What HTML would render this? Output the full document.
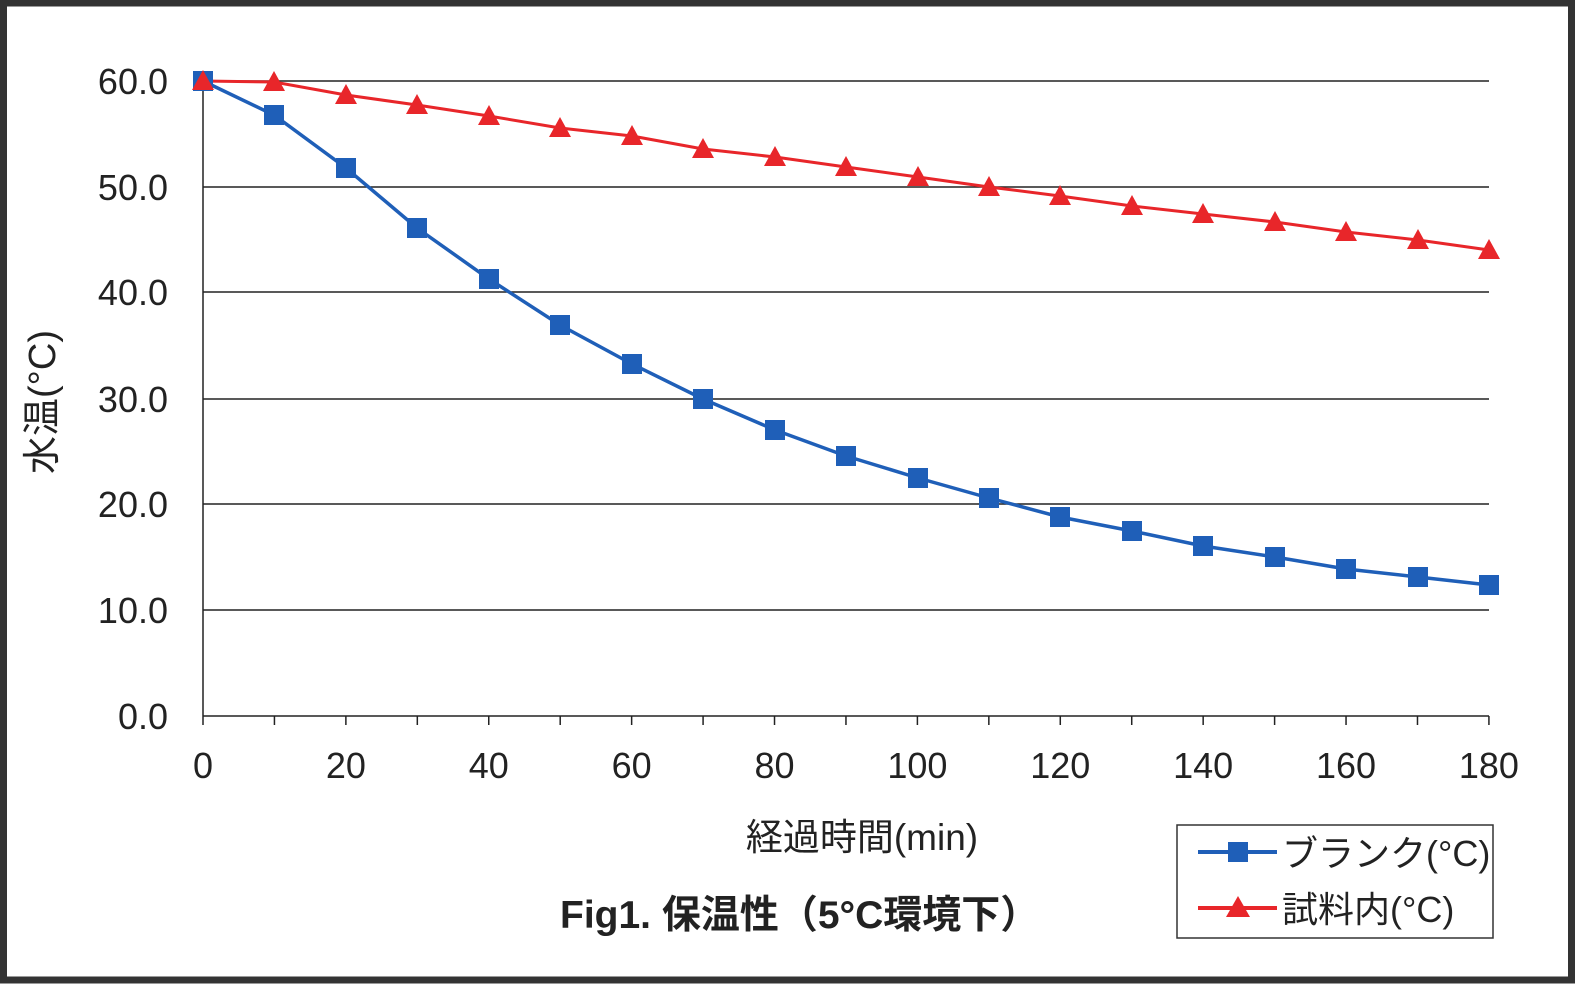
<!DOCTYPE html>
<html><head><meta charset="utf-8"><style>
html,body{margin:0;padding:0;background:#fff;}
body{width:1580px;height:990px;overflow:hidden;}
</style></head><body>
<svg width="1580" height="990" xmlns="http://www.w3.org/2000/svg" font-family="'Liberation Sans','Noto Sans CJK JP',sans-serif">
<rect x="3.5" y="3" width="1568" height="977" fill="#fff" stroke="#333" stroke-width="7"/>
<g stroke="#222" stroke-width="1.5">
<line x1="203" y1="81" x2="1489" y2="81"/>
<line x1="203" y1="187" x2="1489" y2="187"/>
<line x1="203" y1="292" x2="1489" y2="292"/>
<line x1="203" y1="399" x2="1489" y2="399"/>
<line x1="203" y1="504" x2="1489" y2="504"/>
<line x1="203" y1="610" x2="1489" y2="610"/>
<line x1="203" y1="716" x2="1489" y2="716"/>
<line x1="203" y1="81" x2="203" y2="716"/>
</g>
<g stroke="#222" stroke-width="1.5" id="ticks"></g>
<g font-size="36" fill="#222" text-anchor="end">
<text x="168" y="94">60.0</text><text x="168" y="200">50.0</text><text x="168" y="305">40.0</text>
<text x="168" y="412">30.0</text><text x="168" y="517">20.0</text><text x="168" y="623">10.0</text><text x="168" y="729">0.0</text>
</g>
<g font-size="36" fill="#222" text-anchor="middle" id="xl"></g>
<polyline fill="none" stroke="#1f5fb8" stroke-width="3.5" points="203,81 274,115 346,168 417,228 489,279 560,325 632,364 703,399 775,430 846,456 918,478 989,498 1060,517 1132,531 1203,546 1275,557 1346,569 1418,577 1489,585" id="bl"/>
<polyline fill="none" stroke="#e8262a" stroke-width="3" points="203,81 274,82 346,95 417,105 489,116 560,128 632,136 703,149 775,157 846,167 918,177 989,187 1060,196 1132,206 1203,214 1275,222 1346,232 1418,240 1489,250" id="rl"/>
<g id="mk"></g>
<text x="68" y="415" font-size="38" fill="#222" text-anchor="middle" transform="rotate(-90 55 415)">水温(°C)</text>
<text x="862" y="850" font-size="37" fill="#222" text-anchor="middle">経過時間(min)</text>
<text x="560" y="928" font-size="39" fill="#222" font-weight="bold">Fig1. 保温性（5°C環境下）</text>
<rect x="1177" y="825" width="316" height="113" fill="#fff" stroke="#333" stroke-width="1.5"/>
<line x1="1198" y1="852" x2="1277" y2="852" stroke="#1f5fb8" stroke-width="4"/>
<rect x="1228" y="842" width="20" height="20" fill="#1f5fb8"/>
<line x1="1198" y1="908" x2="1277" y2="908" stroke="#e8262a" stroke-width="4"/>
<polygon points="1238,896 1250,917 1226,917" fill="#e8262a"/>
<text x="1282" y="866" font-size="36" fill="#222">ブランク(°C)</text>
<text x="1282" y="922" font-size="36" fill="#222">試料内(°C)</text>
</svg>
<script>
var ns="http://www.w3.org/2000/svg";
var t=document.getElementById('ticks'),xl=document.getElementById('xl'),mk=document.getElementById('mk');
for(var i=0;i<=18;i++){var x=203+i*71.44;var l=document.createElementNS(ns,'line');l.setAttribute('x1',x);l.setAttribute('x2',x);l.setAttribute('y1',716);l.setAttribute('y2',725);t.appendChild(l);
if(i%2==0){var tx=document.createElementNS(ns,'text');tx.setAttribute('x',x);tx.setAttribute('y',778);tx.textContent=i*10;xl.appendChild(tx);}}
document.getElementById('bl').getAttribute('points').split(' ').forEach(function(p){var a=p.split(',');var r=document.createElementNS(ns,'rect');r.setAttribute('x',a[0]-10);r.setAttribute('y',a[1]-10);r.setAttribute('width',20);r.setAttribute('height',20);r.setAttribute('fill','#1f5fb8');mk.appendChild(r);});
document.getElementById('rl').getAttribute('points').split(' ').forEach(function(p){var a=p.split(',').map(Number);var g=document.createElementNS(ns,'polygon');g.setAttribute('points',a[0]+','+(a[1]-11)+' '+(a[0]+11)+','+(a[1]+9)+' '+(a[0]-11)+','+(a[1]+9));g.setAttribute('fill','#e8262a');mk.appendChild(g);});
</script>
</body></html>
